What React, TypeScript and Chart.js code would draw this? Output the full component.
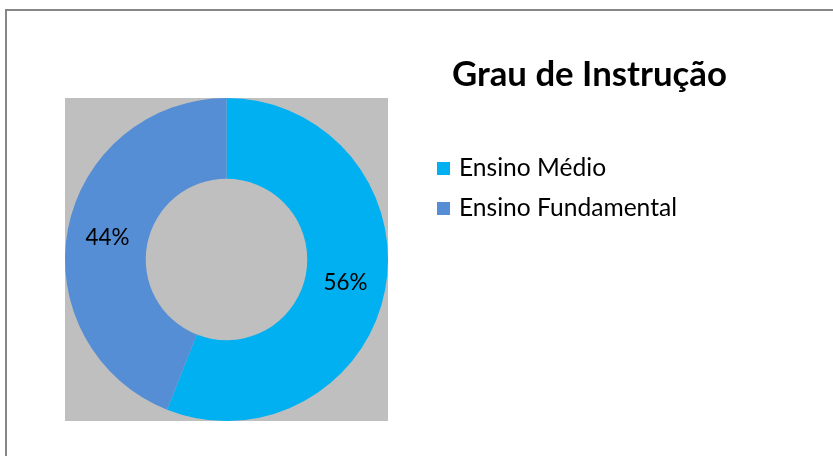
import React, { useEffect, useRef } from "react";
import { Chart, registerables } from "chart.js";

Chart.register(...registerables);

const categories = ["Ensino Médio", "Ensino Fundamental"];
const values = [56, 44];
const colors = ["#00B0F0", "#558ED5"];
const titleText = "Grau de Instrução";

const FONT = "Lato";

function fitFont(ctx: CanvasRenderingContext2D, text: string, weight: string, target: number) {
  ctx.font = `${weight} 100px ${FONT}`;
  const w = ctx.measureText(text).width;
  return (100 * target) / w;
}

const decor = {
  id: "decor",
  beforeDraw(chart: any) {
    const { ctx, chartArea, width, height } = chart;
    ctx.save();
    ctx.fillStyle = "#ffffff";
    ctx.fillRect(0, 0, width, height);
    ctx.strokeStyle = "#878787";
    ctx.lineWidth = 2;
    ctx.strokeRect(6, 10, width + 10, height + 10);
    ctx.fillStyle = "#BFBFBF";
    ctx.fillRect(chartArea.left, chartArea.top, chartArea.right - chartArea.left, chartArea.bottom - chartArea.top);
    ctx.restore();
  },
  afterDatasetsDraw(chart: any) {
    const { ctx } = chart;
    const meta = chart.getDatasetMeta(0);
    const total = values.reduce((a, b) => a + b, 0);
    ctx.save();
    const size = fitFont(ctx, "44%", "normal", 44);
    ctx.font = `normal ${size}px ${FONT}`;
    ctx.fillStyle = "#000000";
    ctx.textAlign = "center";
    ctx.textBaseline = "middle";
    meta.data.forEach((arc: any, i: number) => {
      const p = arc.tooltipPosition();
      const pct = Math.round((values[i] / total) * 100) + "%";
      ctx.fillText(pct, p.x, p.y + 1);
    });
    ctx.restore();
  },
  afterDraw(chart: any) {
    const { ctx } = chart;
    ctx.save();
    ctx.fillStyle = "#000000";
    const ts = fitFont(ctx, titleText, "bold", 275);
    ctx.font = `bold ${ts}px ${FONT}`;
    ctx.textAlign = "left";
    ctx.textBaseline = "alphabetic";
    ctx.fillText(titleText, 452, 86);
    const ls = fitFont(ctx, categories[1], "normal", 218);
    ctx.font = `normal ${ls}px ${FONT}`;
    categories.forEach((c, i) => {
      const y = 168 + i * 40;
      ctx.fillStyle = colors[i];
      ctx.fillRect(437, y - 6, 13, 13);
      ctx.fillStyle = "#000000";
      ctx.textBaseline = "middle";
      ctx.fillText(c, 459, y);
    });
    ctx.restore();
  },
};

export default function App() {
  const ref = useRef<HTMLCanvasElement>(null);
  useEffect(() => {
    if (!ref.current) return;
    const chart = new Chart(ref.current, {
      type: "doughnut",
      data: {
        labels: categories,
        datasets: [
          {
            data: values,
            backgroundColor: colors,
            borderWidth: 0,
          },
        ],
      },
      options: {
        responsive: false,
        animation: false,
        cutout: "50%",
        layout: { padding: { left: 65, top: 98, right: 445, bottom: 35 } },
        plugins: {
          legend: { display: false },
          title: { display: false },
          tooltip: { enabled: false },
        },
      },
      plugins: [decor],
    });
    return () => chart.destroy();
  }, []);
  return (
    <div style={{ position: "fixed", left: 0, top: 0, width: 833, height: 456, background: "#fff" }}>
      <canvas ref={ref} width={833} height={456} style={{ width: 833, height: 456 }} />
    </div>
  );
}
